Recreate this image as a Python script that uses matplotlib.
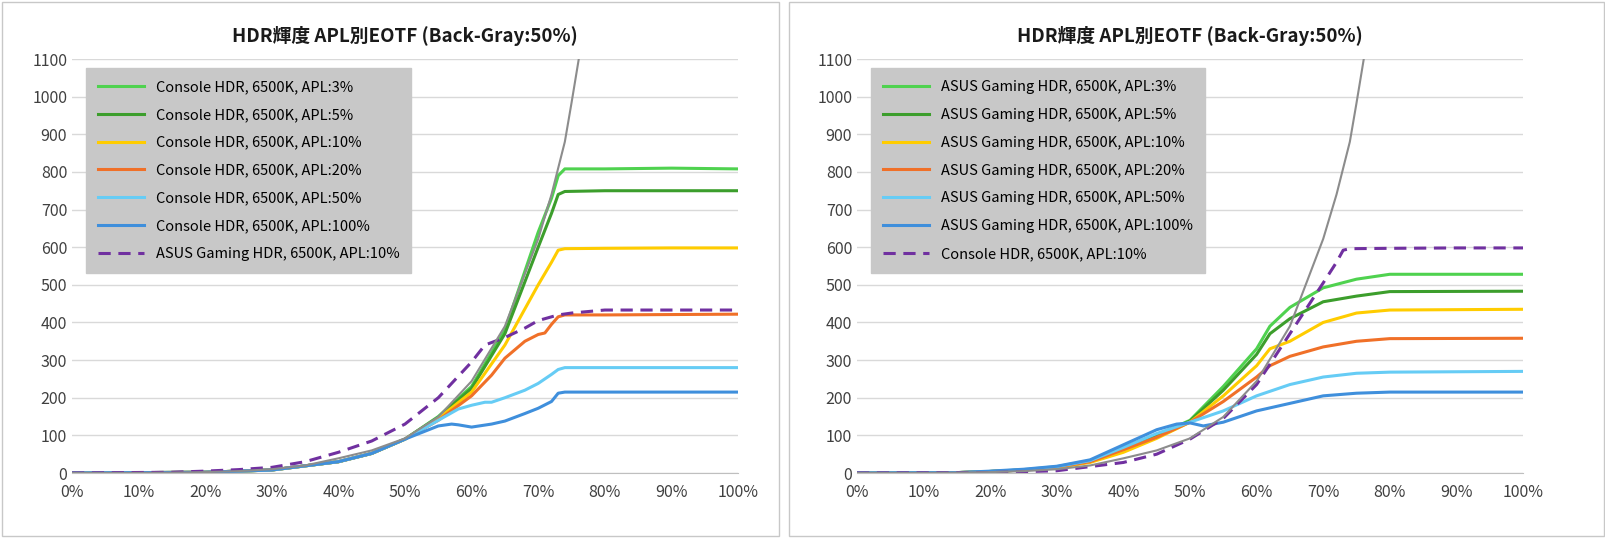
import matplotlib
matplotlib.use("Agg")
import matplotlib.pyplot as plt
from matplotlib.patches import Rectangle

plt.rcParams["font.family"] = ["Noto Sans CJK JP"]

title = "HDR輝度 APL別EOTF (Back-Gray:50%)"
x_ticks = [0, 10, 20, 30, 40, 50, 60, 70, 80, 90, 100]
y_ticks = list(range(0, 1101, 100))

# PQ reference (gray)
pq_x = [0, 10, 15, 20, 25, 30, 35, 40, 45, 50, 55, 60, 65, 70, 72, 74, 75, 76, 77]
pq_y = [0, 0.3, 1, 2.4, 5, 10, 20, 39, 60, 92, 149, 244, 390, 622, 740, 880, 983, 1090, 1200]

# Left panel: Console HDR
c3_x = [0, 20, 30, 40, 45, 50, 55, 60, 65, 70, 72, 73, 74, 80, 90, 100]
c3_y = [0, 2, 8, 30, 52, 90, 150, 230, 380, 640, 730, 790, 808, 808, 810, 808]
c5_x = [0, 20, 30, 40, 45, 50, 55, 60, 65, 70, 72, 73, 74, 80, 90, 100]
c5_y = [0, 2, 8, 30, 52, 90, 148, 225, 370, 600, 690, 740, 748, 750, 750, 750]
c10_x = [0, 20, 30, 40, 45, 50, 55, 60, 65, 70, 72, 73, 74, 80, 90, 100]
c10_y = [0, 2, 8, 30, 52, 90, 145, 215, 340, 500, 560, 592, 596, 597, 598, 598]
c20_x = [0, 20, 30, 40, 45, 50, 55, 60, 63, 65, 68, 70, 71, 72, 73, 74, 80, 100]
c20_y = [0, 2, 8, 30, 52, 90, 140, 205, 260, 305, 350, 368, 372, 395, 415, 420, 420, 422]
c50_x = [0, 20, 30, 40, 45, 50, 55, 58, 60, 62, 63, 65, 68, 70, 72, 73, 74, 80, 100]
c50_y = [0, 2, 8, 30, 52, 90, 140, 170, 180, 188, 188, 200, 220, 238, 262, 275, 280, 280, 280]
c100_x = [0, 20, 30, 40, 45, 50, 55, 57, 58, 60, 63, 65, 68, 70, 72, 73, 74, 80, 100]
c100_y = [0, 2, 8, 30, 52, 90, 125, 130, 128, 122, 130, 138, 158, 172, 190, 212, 215, 215, 215]
a10L_x = [0, 15, 20, 25, 30, 35, 40, 45, 50, 55, 60, 62, 65, 68, 70, 73, 75, 80, 100]
a10L_y = [0, 2, 5, 9, 15, 30, 55, 85, 130, 200, 295, 340, 360, 385, 405, 420, 425, 433, 433]

# Right panel: ASUS Gaming HDR
a3_x = [0, 15, 20, 25, 30, 35, 40, 45, 50, 55, 60, 62, 65, 70, 75, 80, 100]
a3_y = [0, 1, 4, 8, 15, 30, 62, 100, 140, 230, 330, 390, 440, 492, 515, 528, 528]
a5_x = [0, 15, 20, 25, 30, 35, 40, 45, 50, 55, 60, 62, 65, 70, 75, 80, 100]
a5_y = [0, 1, 4, 8, 15, 30, 60, 98, 138, 220, 315, 370, 410, 455, 470, 482, 483]
a10_x = [0, 15, 20, 25, 30, 35, 40, 45, 50, 55, 60, 62, 65, 70, 75, 80, 100]
a10_y = [0, 1, 4, 8, 15, 28, 55, 92, 135, 205, 285, 330, 350, 400, 425, 433, 435]
a20_x = [0, 15, 20, 25, 30, 35, 40, 45, 50, 55, 60, 62, 65, 70, 75, 80, 100]
a20_y = [0, 1, 4, 8, 16, 30, 62, 95, 135, 190, 255, 285, 310, 335, 350, 357, 358]
a50_x = [0, 15, 20, 25, 30, 35, 40, 45, 50, 55, 60, 65, 70, 75, 80, 100]
a50_y = [0, 1, 4, 9, 17, 33, 68, 105, 135, 165, 205, 235, 255, 265, 268, 270]
a100_x = [0, 15, 20, 25, 30, 35, 40, 45, 48, 50, 52, 55, 60, 65, 70, 75, 80, 100]
a100_y = [0, 1, 5, 10, 18, 35, 75, 115, 130, 133, 125, 135, 165, 185, 205, 212, 215, 215]
c10R_x = [0, 20, 30, 40, 45, 50, 55, 60, 65, 70, 72, 73, 74, 80, 90, 100]
c10R_y = [0, 1, 6, 28, 50, 90, 145, 235, 370, 505, 560, 592, 596, 597, 598, 598]

colors = ["#4fd24f", "#3c9e2c", "#ffcc00", "#f07028", "#66ccf5", "#3f8fdc"]
purple = "#7030a0"

left_series = [(c3_x, c3_y, "Console HDR, 6500K, APL:3%"),
               (c5_x, c5_y, "Console HDR, 6500K, APL:5%"),
               (c10_x, c10_y, "Console HDR, 6500K, APL:10%"),
               (c20_x, c20_y, "Console HDR, 6500K, APL:20%"),
               (c50_x, c50_y, "Console HDR, 6500K, APL:50%"),
               (c100_x, c100_y, "Console HDR, 6500K, APL:100%")]
left_dash = (a10L_x, a10L_y, "ASUS Gaming HDR, 6500K, APL:10%")
right_series = [(a3_x, a3_y, "ASUS Gaming HDR, 6500K, APL:3%"),
                (a5_x, a5_y, "ASUS Gaming HDR, 6500K, APL:5%"),
                (a10_x, a10_y, "ASUS Gaming HDR, 6500K, APL:10%"),
                (a20_x, a20_y, "ASUS Gaming HDR, 6500K, APL:20%"),
                (a50_x, a50_y, "ASUS Gaming HDR, 6500K, APL:50%"),
                (a100_x, a100_y, "ASUS Gaming HDR, 6500K, APL:100%")]
right_dash = (c10R_x, c10R_y, "Console HDR, 6500K, APL:10%")

fig = plt.figure(figsize=(16.06, 5.38), dpi=100)
fig.patches.append(Rectangle((2/1606, 2/538), 777/1606, 534/538, transform=fig.transFigure,
                             fill=False, edgecolor="#c8c8c8", lw=1))
fig.patches.append(Rectangle((789/1606, 2/538), 815/1606, 534/538, transform=fig.transFigure,
                             fill=False, edgecolor="#c8c8c8", lw=1))

def draw(left, series, dash):
    ax = fig.add_axes([left/1606, 65/538, 666/1606, 414/538])
    for (xs, ys, lab), c in zip(series, colors):
        ax.plot(xs, ys, color=c, lw=2.2, label=lab)
    ax.plot(dash[0], dash[1], color=purple, lw=2.2, ls=(0, (4, 2.5)), label=dash[2])
    ax.plot(pq_x, pq_y, color="#8c8c8c", lw=1.5)
    ax.set_xlim(0, 100)
    ax.set_ylim(0, 1100)
    ax.set_xticks(x_ticks)
    ax.set_xticklabels([f"{t}%" for t in x_ticks])
    ax.set_yticks(y_ticks)
    ax.tick_params(labelsize=11.5, length=0, colors="#404040")
    ax.tick_params(axis="x", pad=8)
    ax.grid(axis="y", color="#d9d9d9", lw=1)
    for s in ["top", "right", "left"]:
        ax.spines[s].set_visible(False)
    ax.spines["bottom"].set_color("#bfbfbf")
    ax.set_axisbelow(True)
    ax.set_title(title, fontsize=13.5, fontweight="bold", pad=12, color="#1a1a1a")
    leg = ax.legend(loc="upper left", bbox_to_anchor=(0.01, 0.995), fontsize=10.5,
                    frameon=True, fancybox=False, handlelength=3.2, labelspacing=0.95,
                    borderpad=0.8)
    leg.get_frame().set_facecolor("#c8c8c8")
    leg.get_frame().set_edgecolor("#c8c8c8")
    leg.get_frame().set_alpha(1)
    return ax

draw(72, left_series, left_dash)
draw(857, right_series, right_dash)
fig.savefig("out.png", dpi=100)
